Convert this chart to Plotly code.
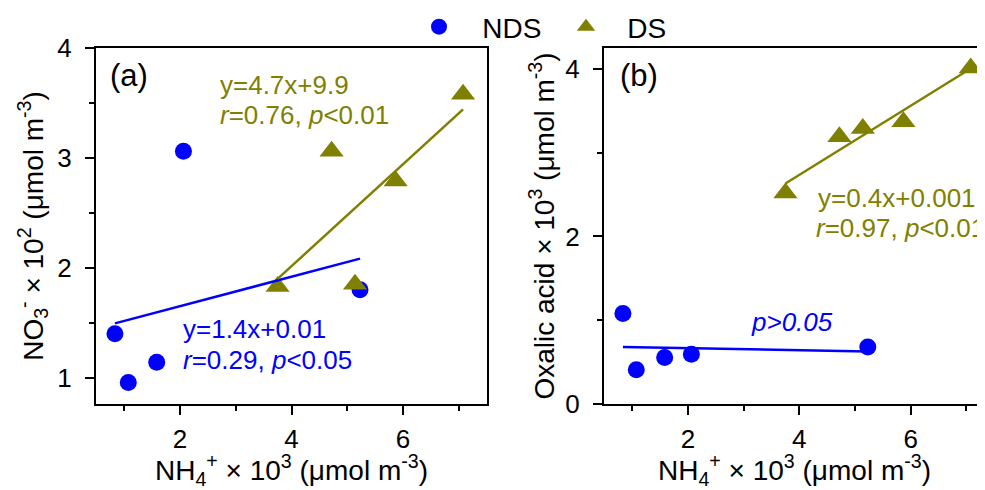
import numpy as np
import plotly.graph_objects as go

# ---- data ----
nh4_nds = [0.83, 1.07, 1.58, 2.06, 5.23]
nh4_ds = [3.75, 4.72, 5.14, 5.87, 7.08]
no3_nds = [1.40, 0.955, 1.14, 3.06, 1.80]
no3_ds = [1.83, 3.06, 1.85, 2.79, 3.58]
ox_nds = [1.08, 0.41, 0.556, 0.595, 0.68]
ox_ds = [2.52, 3.19, 3.29, 3.37, 4.01]

BLUE = "#0000FF"
OLIVE = "#808000"
FONT = "Arial, Liberation Sans, sans-serif"
TICK_SIZE = 26
TITLE_SIZE = 28
ANN_SIZE = 26

# the page puts the figure 8px in from the window's top-left corner
OFF = 8


def fit(x, y):
    k, b = np.polyfit(x, y, 1)
    xs = np.array([min(x), max(x)])
    return xs, k * xs + b


fig = go.Figure()

# panel (a)
fig.add_trace(go.Scatter(x=nh4_nds, y=no3_nds, mode="markers", name="\u00a0\u00a0\u00a0NDS",
                         marker=dict(color=BLUE, size=17, symbol="circle"),
                         xaxis="x", yaxis="y", legend="legend"))
fig.add_trace(go.Scatter(x=nh4_ds, y=no3_ds, mode="markers", name="\u00a0\u00a0\u2009DS",
                         marker=dict(color=OLIVE, size=21, symbol="triangle-up"),
                         xaxis="x", yaxis="y", legend="legend2"))
fx, fy = fit(nh4_nds, no3_nds)
fig.add_trace(go.Scatter(x=fx, y=fy, mode="lines", line=dict(color=BLUE, width=2.5),
                         showlegend=False, xaxis="x", yaxis="y"))
fx, fy = fit(nh4_ds, no3_ds)
fig.add_trace(go.Scatter(x=fx, y=fy, mode="lines", line=dict(color=OLIVE, width=2.5),
                         showlegend=False, xaxis="x", yaxis="y"))

# panel (b)
fx, fy = fit(nh4_nds, ox_nds)
fig.add_trace(go.Scatter(x=fx, y=fy, mode="lines", line=dict(color=BLUE, width=2.5),
                         showlegend=False, xaxis="x2", yaxis="y2"))
fx, fy = fit(nh4_ds, ox_ds)
fig.add_trace(go.Scatter(x=fx, y=fy, mode="lines", line=dict(color=OLIVE, width=2.5),
                         showlegend=False, xaxis="x2", yaxis="y2"))
fig.add_trace(go.Scatter(x=nh4_nds, y=ox_nds, mode="markers", showlegend=False,
                         marker=dict(color=BLUE, size=17, symbol="circle"),
                         xaxis="x2", yaxis="y2"))
fig.add_trace(go.Scatter(x=nh4_ds, y=ox_ds, mode="markers", showlegend=False,
                         marker=dict(color=OLIVE, size=21, symbol="triangle-up"),
                         xaxis="x2", yaxis="y2"))

W, H = 985 - OFF, 490 - OFF
ML, MR, MT = 96 - OFF, 0, 48 - OFF
MB = H - (404 - OFF)
PW = W - ML - MR
left_end = (487 - 96) / PW
right_start = (604 - 96) / PW

common_axis = dict(showgrid=False, zeroline=False, showline=True, linecolor="black",
                   linewidth=2, ticks="outside", tickcolor="black", tickwidth=2,
                   ticklen=9, tickfont=dict(size=TICK_SIZE, color="black", family=FONT),
                   automargin=False)
minor_x = dict(dtick=1, tick0=0, ticks="outside", ticklen=5, tickcolor="black", tickwidth=2)

xtitle = "NH<sub>4</sub><sup>+</sup> × 10<sup>3</sup> (μmol m<sup>-3</sup>)"

fig.update_layout(
    width=W, height=H,
    margin=dict(l=ML, r=MR, t=MT, b=MB, autoexpand=False),
    paper_bgcolor="white", plot_bgcolor="white",
    font=dict(family=FONT, color="black", size=25),
    xaxis=dict(domain=[0, left_end], range=[0.49, 7.51], dtick=2, tick0=0, mirror=True,
               minor=minor_x, ticklabelstandoff=2,
               title=dict(text=xtitle, font=dict(size=TITLE_SIZE), standoff=10),
               anchor="y", **common_axis),
    yaxis=dict(domain=[0, 1], range=[0.76, 4.0], dtick=1, tick0=0, mirror=True,
               minor=dict(dtick=0.5, tick0=0, ticks="outside", ticklen=5, tickcolor="black", tickwidth=2),
               ticklabelstandoff=8,
               title=dict(text="NO<sub>3</sub><sup>-</sup> × 10<sup>2</sup> (μmol m<sup>-3</sup>)",
                          font=dict(size=TITLE_SIZE), standoff=6),
               anchor="x", **common_axis),
    xaxis2=dict(domain=[right_start, 1], range=[0.49, 7.336], dtick=2, tick0=0, mirror=True,
                minor=minor_x, ticklabelstandoff=2,
                title=dict(text=xtitle, font=dict(size=TITLE_SIZE), standoff=10),
                anchor="y2", **common_axis),
    yaxis2=dict(domain=[0, 1], range=[0, 4.25], dtick=2, tick0=0, mirror=False,
                minor=dict(dtick=1, tick0=0, ticks="outside", ticklen=5, tickcolor="black", tickwidth=2),
                ticklabelstandoff=8,
                title=dict(text="Oxalic acid × 10<sup>3</sup> (μmol m<sup>-3</sup>)",
                           font=dict(size=TITLE_SIZE), standoff=3),
                anchor="x2", **common_axis),
    legend=dict(orientation="h", x=(419 - OFF) / W, y=1 - (27 - OFF) / H,
                xref="container", yref="container",
                xanchor="left", yanchor="middle", bgcolor="rgba(0,0,0,0)",
                font=dict(size=28, color="black", family=FONT)),
    legend2=dict(orientation="h", x=(566 - OFF) / W, y=1 - (27 - OFF) / H,
                 xref="container", yref="container",
                 xanchor="left", yanchor="middle", bgcolor="rgba(0,0,0,0)",
                 font=dict(size=28, color="black", family=FONT)),
    showlegend=True,
)


def ann(text, xpx, ypx, color, axis, size=ANN_SIZE):
    if axis == 1:
        xf = (xpx - 96) / (487 - 96)
        xr = "x domain"
        yr = "y domain"
    else:
        xf = (xpx - 604) / (985 - 604)
        xr = "x2 domain"
        yr = "y2 domain"
    yf = (404 - ypx) / 356
    fig.add_annotation(text=text, x=xf, y=yf, xref=xr, yref=yr, xanchor="left",
                       yanchor="middle", showarrow=False,
                       font=dict(size=size, color=color, family=FONT))


ann("(a)", 108, 75, "black", 1, size=31)
ann("y=4.7x+9.9", 218, 85, OLIVE, 1)
ann("<i>r</i>=0.76, <i>p</i>&lt;0.01", 218, 115, OLIVE, 1)
ann("y=1.4x+0.01", 181, 329, BLUE, 1)
ann("<i>r</i>=0.29, <i>p</i>&lt;0.05", 181, 360, BLUE, 1)
ann("(b)", 618, 75, "black", 2, size=31)
ann("y=0.4x+0.001", 816, 198, OLIVE, 2)
ann("<i>r</i>=0.97, <i>p</i>&lt;0.01", 814, 228, OLIVE, 2)
ann("<i>p&gt;0.05</i>", 749, 322, BLUE, 2)

fig.write_html("out.html")
